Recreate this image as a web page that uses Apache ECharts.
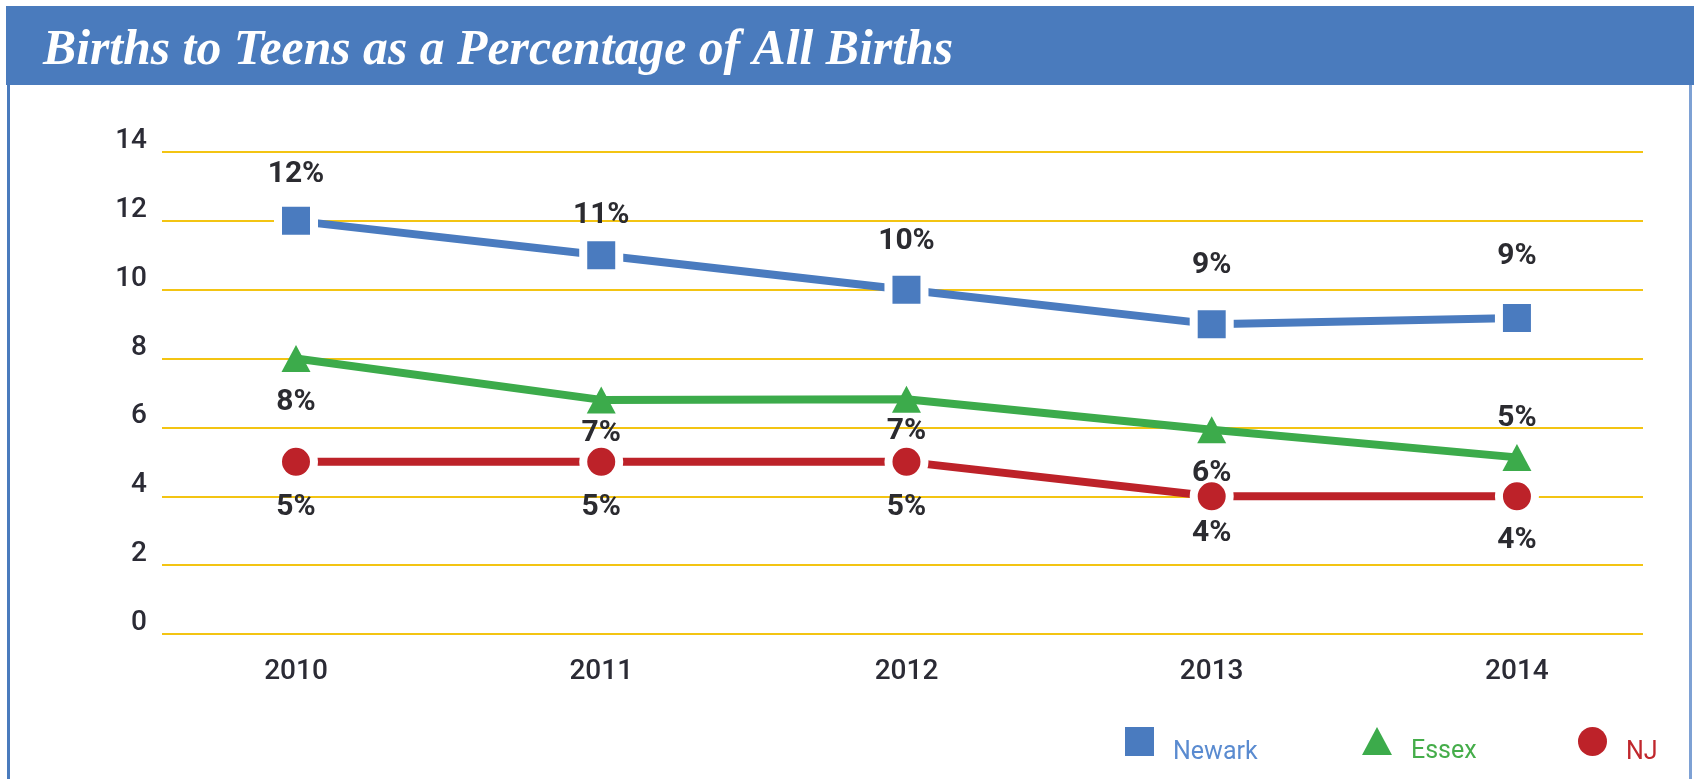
<!DOCTYPE html>
<html>
<head>
<meta charset="utf-8">
<script src="https://cdn.jsdelivr.net/npm/echarts@6/dist/echarts.min.js"></script>
<style>
html,body{margin:0;padding:0;background:#fff;}
#chart{width:1694px;height:779px;}
</style>
</head>
<body>
<div id="chart"></div>
<script>
// ---- data ----
var titleText = 'Births to Teens as a Percentage of All Births';
var years = [2010, 2011, 2012, 2013, 2014];
var yTicks = [0, 2, 4, 6, 8, 10, 12, 14];
var newark = [12, 11, 10, 9, 9.18];
var essex = [8, 6.8, 6.82, 5.93, 5.13];
var nj = [5, 5, 5, 4, 4];
var seriesNames = ['Newark', 'Essex', 'NJ'];

// ---- styles ----
var C_BLUE = '#4a7bbf', C_GREEN = '#3cab4b', C_RED = '#bd2229';
var labelFont = { fontFamily: 'Roboto', fontWeight: 'bold', fontSize: 30, color: '#2b2b30' };
// label placement per point (position, distance)
var newarkLab = [['top',9],['top',3],['top',11],['top',22],['top',24]];
var essexLab = [['bottom',15],['bottom',5],['bottom',4],['bottom',15],['top',10]];
var njLab = [['bottom',9],['bottom',9],['bottom',9],['bottom',0],['bottom',7]];

function pts(vals, labs) {
  return vals.map(function (v, i) {
    return {
      value: [years[i], v],
      label: { position: labs[i][0], distance: labs[i][1] }
    };
  });
}

// title scale to match reference width
var cv = document.createElement('canvas').getContext('2d');
var TITLE_FONT = 'italic bold 50px "Liberation Serif"';
cv.font = TITLE_FONT;
var tw = cv.measureText(titleText).width;
var titleScale = 910 / tw;

var chart = echarts.init(document.getElementById('chart'), null, { renderer: 'canvas' });

function mkSeries(name, vals, labs, color, symbol, size, border) {
  return {
    name: name,
    type: 'line',
    data: pts(vals, labs),
    symbol: symbol,
    symbolSize: size,
    showAllSymbol: true,
    lineStyle: { color: color, width: 8 },
    itemStyle: { color: color, borderColor: '#fff', borderWidth: border },
    label: {
      show: true,
      fontFamily: labelFont.fontFamily, fontWeight: labelFont.fontWeight,
      fontSize: labelFont.fontSize, color: labelFont.color,
      formatter: function (p) { return Math.round(p.value[1]) + '%'; }
    },
    emphasis: { disabled: true },
    z: 3
  };
}

function mkLegend(name, left, icon, w, h, color) {
  return {
    data: [name],
    left: left, top: 722,
    icon: icon,
    itemWidth: w, itemHeight: h,
    itemStyle: { borderWidth: 0 },
    selectedMode: false,
    formatter: '{s| }{t|{name}}',
    textStyle: {
      fontFamily: 'Roboto', fontSize: 25, color: color,
      rich: {
        s: { width: 14, height: 47, fontSize: 25, verticalAlign: 'middle' },
        t: { fontFamily: 'Roboto', fontSize: 25, color: color, verticalAlign: 'bottom', lineHeight: 29 }
      }
    }
  };
}

var option = {
  backgroundColor: '#fff',
  animation: false,
  graphic: [
    { type: 'rect', shape: { x: 6, y: 6, width: 1688, height: 79 }, style: { fill: '#4a7bbd' }, z: 0 },
    { type: 'rect', shape: { x: 7, y: 85, width: 3, height: 700 }, style: { fill: '#4a7bbd' }, z: 0 },
    { type: 'rect', shape: { x: 1689, y: 85, width: 3, height: 700 }, style: { fill: '#7ea1d4' }, z: 0 },
    {
      type: 'text', x: 43, y: 51, scaleX: titleScale, z: 1,
      style: {
        text: titleText, fill: '#fff',
        font: TITLE_FONT,
        verticalAlign: 'middle', align: 'left'
      }
    }
  ],
  legend: [
    mkLegend('Newark', 1120, 'rect', 29, 29, '#5a8bd0'),
    mkLegend('Essex', 1357, 'triangle', 30, 28, '#45ad4a'),
    mkLegend('NJ', 1573, 'circle', 29, 29, '#c0272d')
  ],
  grid: { left: 162, right: 51, top: 152, bottom: 145, containLabel: false },
  xAxis: {
    type: 'value',
    min: 2009.561, max: 2014.413,
    axisLine: { show: false },
    axisTick: { show: false },
    splitLine: { show: false },
    axisLabel: {
      customValues: years,
      fontFamily: 'Roboto', fontSize: 28, fontWeight: 500, color: '#2b2b35',
      margin: 24,
      formatter: function (v) { return String(v); }
    }
  },
  yAxis: {
    type: 'value',
    min: 0, max: 14, interval: 2,
    axisLine: { show: false },
    axisTick: { show: false },
    splitLine: { show: true, lineStyle: { color: '#f3c413', width: 2 } },
    axisLabel: {
      fontFamily: 'Roboto', fontSize: 28, fontWeight: 500, color: '#2b2b35',
      margin: 15, verticalAlign: 'bottom', lineHeight: 22
    }
  },
  series: [
    mkSeries('Newark', newark, newarkLab, C_BLUE, 'rect', 36, 8),
    mkSeries('Essex', essex, essexLab, C_GREEN, 'triangle', [29, 27], 0),
    mkSeries('NJ', nj, njLab, C_RED, 'circle', 36, 8)
  ]
};
chart.setOption(option);
</script>
</body>
</html>
